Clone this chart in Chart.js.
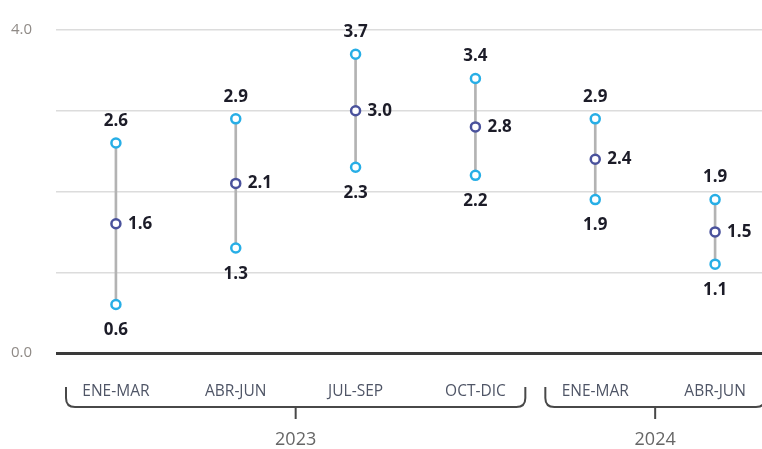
<!DOCTYPE html>
<html>
<head>
<meta charset="utf-8">
<script src="https://cdn.jsdelivr.net/npm/chart.js@4.4.1/dist/chart.umd.min.js"></script>
<style>
  html, body { margin: 0; padding: 0; background: #fff; overflow: hidden; }
  #wrap { position: relative; width: 790px; height: 449px; overflow: hidden; }
  #myChart { position: absolute; left: 0; top: -3px; }
</style>
</head>
<body>
<div id="wrap"><canvas id="myChart" width="790" height="452"></canvas></div>
<script>
const categories = ['ENE-MAR', 'ABR-JUN', 'JUL-SEP', 'OCT-DIC', 'ENE-MAR', 'ABR-JUN'];
const years = ['2023', '2023', '2023', '2023', '2024', '2024'];
const lowValues = [0.6, 1.3, 2.3, 2.2, 1.9, 1.1];
const midValues = [1.6, 2.1, 3.0, 2.8, 2.4, 1.5];
const highValues = [2.6, 2.9, 3.7, 3.4, 2.9, 1.9];
const yTicks = [0, 4];

const cyan = '#27aee6';
const navy = '#4a529c';

const ranges = lowValues.map((v, i) => [v, highValues[i]]);

// labels next to the points + year brackets under the axis
const extras = {
    id: 'extras',
    afterDatasetsDraw(chart) {
        const ctx = chart.ctx;
        ctx.save();
        ctx.font = 'bold 17px "Open Sans"';
        ctx.fillStyle = '#1c1c28';
        ctx.textBaseline = 'middle';
        chart.getDatasetMeta(1).data.forEach((p, i) => {
            ctx.textAlign = 'center';
            ctx.fillText(highValues[i].toFixed(1), p.x, p.y - 22);
        });
        chart.getDatasetMeta(2).data.forEach((p, i) => {
            ctx.textAlign = 'center';
            ctx.fillText(lowValues[i].toFixed(1), p.x, p.y + 26);
        });
        chart.getDatasetMeta(3).data.forEach((p, i) => {
            ctx.textAlign = 'left';
            ctx.fillText(midValues[i].toFixed(1), p.x + 12, p.y);
        });

        // year brackets
        const x = chart.scales.x;
        const base = chart.chartArea.bottom;
        const groups = [];
        years.forEach((y, i) => {
            const g = groups[groups.length - 1];
            if (g && g.year === y) g.last = i;
            else groups.push({ year: y, first: i, last: i });
        });
        const half = (x.getPixelForValue(1) - x.getPixelForValue(0)) / 2;
        const top = base + 34, bot = base + 54, r = 9;
        ctx.strokeStyle = '#484848';
        ctx.lineWidth = 2;
        ctx.fillStyle = '#666';
        ctx.font = '18px "Open Sans"';
        ctx.textAlign = 'center';
        groups.forEach(g => {
            const l = x.getPixelForValue(g.first) - half + 10;
            const rr = x.getPixelForValue(g.last) + half - 10;
            ctx.beginPath();
            ctx.moveTo(l, top);
            ctx.lineTo(l, bot - r);
            ctx.quadraticCurveTo(l, bot, l + r, bot);
            ctx.lineTo(rr - r, bot);
            ctx.quadraticCurveTo(rr, bot, rr, bot - r);
            ctx.lineTo(rr, top);
            ctx.stroke();
            const c = (l + rr) / 2;
            ctx.beginPath();
            ctx.moveTo(c, bot);
            ctx.lineTo(c, bot + 12);
            ctx.stroke();
            ctx.fillText(g.year, c, base + 87);
        });
        ctx.restore();
    }
};

const ctx = document.getElementById('myChart').getContext('2d');
const myChart = new Chart(ctx, {
    data: {
        labels: categories,
        datasets: [
            {
                type: 'bar',
                data: ranges,
                backgroundColor: '#b3b3b3',
                barThickness: 2,
                order: 3
            },
            {
                type: 'line',
                data: highValues,
                showLine: false,
                pointRadius: 4.5,
                pointBorderWidth: 2.5,
                pointBorderColor: cyan,
                pointBackgroundColor: '#fff',
                order: 1
            },
            {
                type: 'line',
                data: lowValues,
                showLine: false,
                pointRadius: 4.5,
                pointBorderWidth: 2.5,
                pointBorderColor: cyan,
                pointBackgroundColor: '#fff',
                order: 1
            },
            {
                type: 'line',
                data: midValues,
                showLine: false,
                pointRadius: 4.5,
                pointBorderWidth: 2.5,
                pointBorderColor: navy,
                pointBackgroundColor: '#fff',
                order: 1
            }
        ]
    },
    options: {
        responsive: false,
        animation: false,
        layout: { padding: { top: 22, right: 15, left: 0, bottom: 0 } },
        plugins: { legend: { display: false }, tooltip: { enabled: false } },
        scales: {
            x: {
                offset: true,
                grid: { display: false },
                border: { display: false },
                ticks: { color: '#4f5566', font: { size: 15.5, family: 'Open Sans' }, padding: 21 },
                afterFit: s => { s.height = 96; }
            },
            y: {
                min: 0,
                max: 4,
                border: { display: false },
                grid: {
                    drawTicks: false,
                    color: c => c.tick.value === 0 ? '#3a3a3a' : '#dcdcdc',
                    lineWidth: c => c.tick.value === 0 ? 3 : 1.5
                },
                ticks: {
                    stepSize: 1,
                    padding: 24,
                    color: '#8f8a86',
                    font: { size: 15, family: 'Open Sans' },
                    callback: v => yTicks.includes(v) ? v.toFixed(1) : ''
                },
                afterFit: s => { s.width = 56; }
            }
        }
    },
    plugins: [extras]
});
</script>
</body>
</html>
